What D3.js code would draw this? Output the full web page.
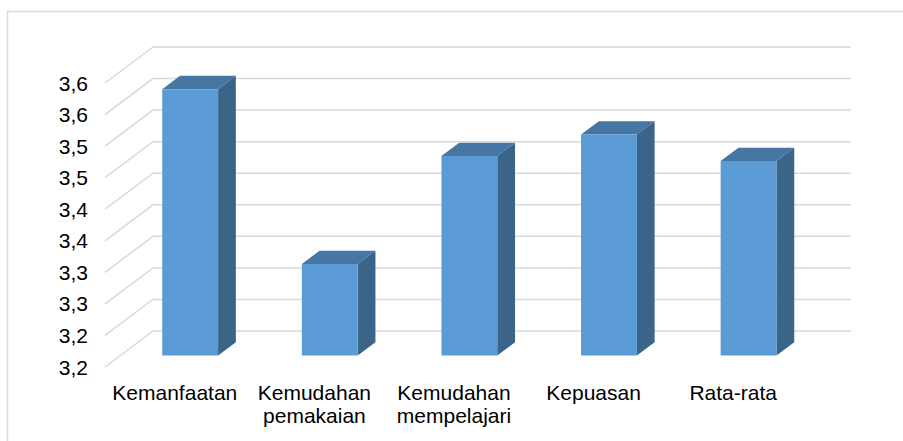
<!DOCTYPE html>
<html>
<head>
<meta charset="utf-8">
<script src="https://cdn.jsdelivr.net/npm/d3@7"></script>
<style>
    body { margin: 0; padding: 0; background: #fff; }
    svg { display: block; font-family: "Liberation Sans", Arial, sans-serif; }
</style>
</head>
<body>
<div id="chart"></div>
<script>
    // data
    var categories = ["Kemanfaatan", "Kemudahan\npemakaian", "Kemudahan\nmempelajari", "Kepuasan", "Rata-rata"];
    var values = [3.572, 3.295, 3.466, 3.50, 3.458];
    var yTicks = [3.15, 3.20, 3.25, 3.30, 3.35, 3.40, 3.45, 3.50, 3.55, 3.60];
    var yTickLabels = ["3,2", "3,2", "3,3", "3,3", "3,4", "3,4", "3,5", "3,5", "3,6", "3,6"];

    var W = 903, H = 441;
    // 3d depth offset of the floor (front -> back wall)
    var DEPTH = { dx: 48, dy: -36 };
    var BAR_FRONT = 0.32, BAR_BACK = 0.69;

    var svg = d3.select("#chart").append("svg")
        .attr("width", W)
        .attr("height", H);

    svg.append("rect").attr("width", W).attr("height", H).attr("fill", "#fff");

    // chart border (partly cut off)
    svg.append("path")
        .attr("d", "M7.5," + (H + 5) + "V11.5H" + (W + 5))
        .attr("fill", "none")
        .attr("stroke", "#d9d9d9")
        .attr("stroke-width", 1.5);

    var y = d3.scaleLinear()
        .domain([3.15, 3.60])
        .range([367, 83]);

    var x = d3.scaleBand()
        .domain(categories)
        .range([105, 803])
        .padding(0);

    function proj(px, v, f) {
        return [px + DEPTH.dx * f, y(v) + DEPTH.dy * f];
    }

    // gridlines: side wall diagonal + back wall
    var backRight = x.range()[1] + DEPTH.dx;
    svg.append("g").selectAll("polyline")
        .data(yTicks)
        .enter()
        .append("polyline")
        .attr("points", function(d) {
            var a = proj(x.range()[0], d, 0), b = proj(x.range()[0], d, 1);
            return a.join(",") + " " + b.join(",") + " " + backRight + "," + b[1];
        })
        .attr("fill", "none")
        .attr("stroke", "#d9d9d9")
        .attr("stroke-width", 1.5);

    // y labels
    svg.append("g").selectAll("text")
        .data(yTicks)
        .enter()
        .append("text")
        .attr("x", 88)
        .attr("y", function(d) { return y(d); })
        .attr("dy", "0.36em")
        .attr("text-anchor", "end")
        .attr("font-size", 21)
        .attr("fill", "#000")
        .text(function(d, i) { return yTickLabels[i]; });

    // bars
    var barW = x.bandwidth() * 0.4;
    var bars = svg.append("g").selectAll("g")
        .data(categories)
        .enter()
        .append("g");

    function poly(pts) {
        return pts.map(function(p) { return p.join(","); }).join(" ");
    }

    bars.each(function(c, i) {
        var g = d3.select(this);
        var x0 = x(c) + (x.bandwidth() - barW) / 2, x1 = x0 + barW;
        var v = values[i], base = yTicks[0];
        var fl = proj(x0, base, BAR_FRONT), fr = proj(x1, base, BAR_FRONT);
        var tl = proj(x0, v, BAR_FRONT), tr = proj(x1, v, BAR_FRONT);
        var btl = proj(x0, v, BAR_BACK), btr = proj(x1, v, BAR_BACK);
        var bbr = proj(x1, base, BAR_BACK);
        // top
        g.append("polygon").attr("points", poly([tl, tr, btr, btl])).attr("fill", "#4677a4");
        // side
        g.append("polygon").attr("points", poly([tr, btr, bbr, fr])).attr("fill", "#3b6489");
        // front
        g.append("polygon").attr("points", poly([fl, fr, tr, tl])).attr("fill", "#5b9bd5");
    });

    // category labels
    svg.append("g").selectAll("text")
        .data(categories)
        .enter()
        .append("text")
        .attr("x", function(d) { return x(d) + x.bandwidth() / 2; })
        .attr("y", 400)
        .attr("text-anchor", "middle")
        .attr("font-size", 21)
        .attr("fill", "#000")
        .each(function(d) {
            var t = d3.select(this);
            d.split("\n").forEach(function(line, k) {
                t.append("tspan")
                    .attr("x", x(d) + x.bandwidth() / 2)
                    .attr("dy", k === 0 ? 0 : 23)
                    .text(line);
            });
        });
</script>
</body>
</html>
